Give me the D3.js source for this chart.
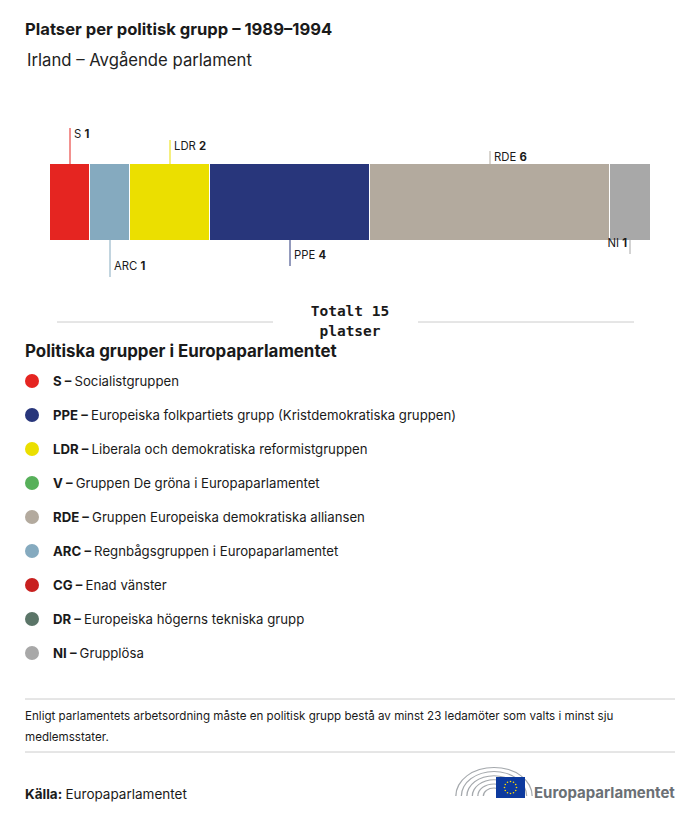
<!DOCTYPE html>
<html>
<head>
<meta charset="utf-8">
<script src="https://cdn.jsdelivr.net/npm/d3@7"></script>
<style>
  body { margin: 0; background: #fff; }
  svg text { font-family: "Inter", "Noto Sans", sans-serif; fill: #1a1a1a; }
</style>
</head>
<body>
<div id="chart"></div>
<script>
// Datos
const groups = ["S", "ARC", "LDR", "PPE", "RDE", "NI"]
const seats = [1, 1, 2, 4, 6, 1]
const barColors = ["#e52521", "#85aabf", "#ebdf00", "#28367b", "#b3aa9e", "#a8a8a8"]

const legendCodes = ["S", "PPE", "LDR", "V", "RDE", "ARC", "CG", "DR", "NI"]
const legendNames = ["Socialistgruppen", "Europeiska folkpartiets grupp (Kristdemokratiska gruppen)",
  "Liberala och demokratiska reformistgruppen", "Gruppen De gröna i Europaparlamentet",
  "Gruppen Europeiska demokratiska alliansen", "Regnbågsgruppen i Europaparlamentet",
  "Enad vänster", "Europeiska högerns tekniska grupp", "Grupplösa"]
const legendColors = ["#e52521", "#28367b", "#ebdf00", "#57b05a", "#b3aa9e", "#85aabf", "#c8201f", "#5b7568", "#a8a8a8"]

const total = d3.sum(seats)

// Constantes
const width = 700
const height = 820
const margin = { left: 50, right: 50 }
const barTop = 164
const barH = 76

const svg = d3.select("div#chart").append("svg")
  .attr("width", width).attr("height", height)

// Títulos
svg.append("text").attr("x", 25).attr("y", 35)
  .attr("font-size", 16.6).attr("font-weight", 700)
  .text("Platser per politisk grupp – 1989–1994")
svg.append("text").attr("x", 27).attr("y", 66)
  .attr("font-size", 16.7).attr("font-weight", 400).style("fill", "#222")
  .text("Irland – Avgående parlament")

// Escala
const x = d3.scaleLinear().domain([0, total]).range([margin.left, width - margin.right])

const data = groups.map((g, i) => ({
  g, n: seats[i], c: barColors[i],
  start: d3.sum(seats.slice(0, i)), i
}))

const bars = svg.append("g").attr("class", "bars")
bars.selectAll("rect").data(data).enter().append("rect")
  .attr("x", d => x(d.start))
  .attr("y", barTop)
  .attr("width", d => x(d.start + d.n) - x(d.start) - (d.i < data.length - 1 ? 1 : 0))
  .attr("height", barH)
  .attr("fill", d => d.c)

// etiquetas: arriba los pares, abajo los impares, líneas cada vez más cortas
const lineLen = [36, 37, 24, 26, 13, 14]
const labels = svg.append("g").attr("class", "labels")
data.forEach(d => {
  const above = d.i % 2 === 0
  const last = d.i === data.length - 1
  const cx = last ? x(d.start + d.n) - 20 : x(d.start + d.n / 2)
  const y0 = above ? barTop : barTop + barH
  const y1 = above ? y0 - lineLen[d.i] : y0 + lineLen[d.i]
  labels.append("line")
    .attr("x1", cx).attr("x2", cx).attr("y1", y0).attr("y2", y1)
    .attr("stroke", d.c).attr("stroke-width", 1)
  const ty = above ? y1 + 10 : y1 - 7
  const t = labels.append("text")
    .attr("x", last ? cx - 3 : cx + 4).attr("y", ty)
    .attr("font-size", 11.3)
    .attr("text-anchor", last ? "end" : "start")
  t.append("tspan").text(d.g + " ")
  t.append("tspan").attr("font-weight", 700).text(d.n)
})

// Total
svg.append("line").attr("x1", 57).attr("x2", 273).attr("y1", 322).attr("y2", 322)
  .attr("stroke", "#ccc")
svg.append("line").attr("x1", 418).attr("x2", 634).attr("y1", 322).attr("y2", 322)
  .attr("stroke", "#ccc")
const tot = svg.append("text").attr("x", 350).attr("y", 316)
  .attr("text-anchor", "middle").attr("font-size", 14.5).attr("font-weight", 700)
  .style("font-family", "'DejaVu Sans Mono', monospace")
tot.append("tspan").attr("x", 350).text("Totalt " + total)
tot.append("tspan").attr("x", 350).attr("dy", 20).text("platser")

// Leyenda
svg.append("text").attr("x", 25).attr("y", 357)
  .attr("font-size", 16.9).attr("font-weight", 700)
  .text("Politiska grupper i Europaparlamentet")

const leg = svg.append("g").attr("class", "legend")
const items = leg.selectAll("g").data(legendCodes).enter().append("g")
  .attr("transform", (d, i) => `translate(0, ${381 + i * 34})`)
items.append("circle").attr("cx", 32).attr("cy", 0).attr("r", 7)
  .attr("fill", (d, i) => legendColors[i])
const lt = items.append("text").attr("x", 53).attr("y", 4.5).attr("font-size", 13.2)
lt.append("tspan").attr("font-weight", 700).text(d => d + " – ")
lt.append("tspan").text((d, i) => legendNames[i])

// Nota
svg.append("line").attr("x1", 25).attr("x2", 675).attr("y1", 699).attr("y2", 699).attr("stroke", "#ccc")
svg.append("line").attr("x1", 25).attr("x2", 675).attr("y1", 752).attr("y2", 752).attr("stroke", "#ccc")
svg.append("text").attr("x", 25).attr("y", 720).attr("font-size", 11.6)
  .text("Enligt parlamentets arbetsordning måste en politisk grupp bestå av minst 23 ledamöter som valts i minst sju")
svg.append("text").attr("x", 25).attr("y", 741).attr("font-size", 11.6)
  .text("medlemsstater.")

const src = svg.append("text").attr("x", 25).attr("y", 799).attr("font-size", 13.5)
src.append("tspan").attr("font-weight", 700).text("Källa: ")
src.append("tspan").text("Europaparlamentet")

// Logo
const logo = svg.append("g").attr("class", "logo")
const arcCx = 494, arcCy = 796
d3.range(6).forEach(k => {
  const r = 10 + k * 5.5
  logo.append("path")
    .attr("d", d3.arc()({ innerRadius: r, outerRadius: r + 1.3, startAngle: -Math.PI / 2, endAngle: Math.PI / 2 }))
    .attr("transform", `translate(${arcCx},${arcCy}) scale(1,0.75)`)
    .attr("fill", "#a5a9ad")
})
logo.append("rect").attr("x", 496).attr("y", 777).attr("width", 29).attr("height", 21).attr("fill", "#0d3a9e")
d3.range(12).forEach(k => {
  const a = k / 12 * 2 * Math.PI
  logo.append("circle").attr("cx", 510.5 + 6 * Math.cos(a)).attr("cy", 787.5 + 6 * Math.sin(a))
    .attr("r", 0.8).attr("fill", "#ffdd00")
})
logo.append("text").attr("x", 534).attr("y", 798).attr("font-size", 15).attr("font-weight", 700)
  .style("fill", "#6b7075").text("Europaparlamentet")
</script>
</body>
</html>
